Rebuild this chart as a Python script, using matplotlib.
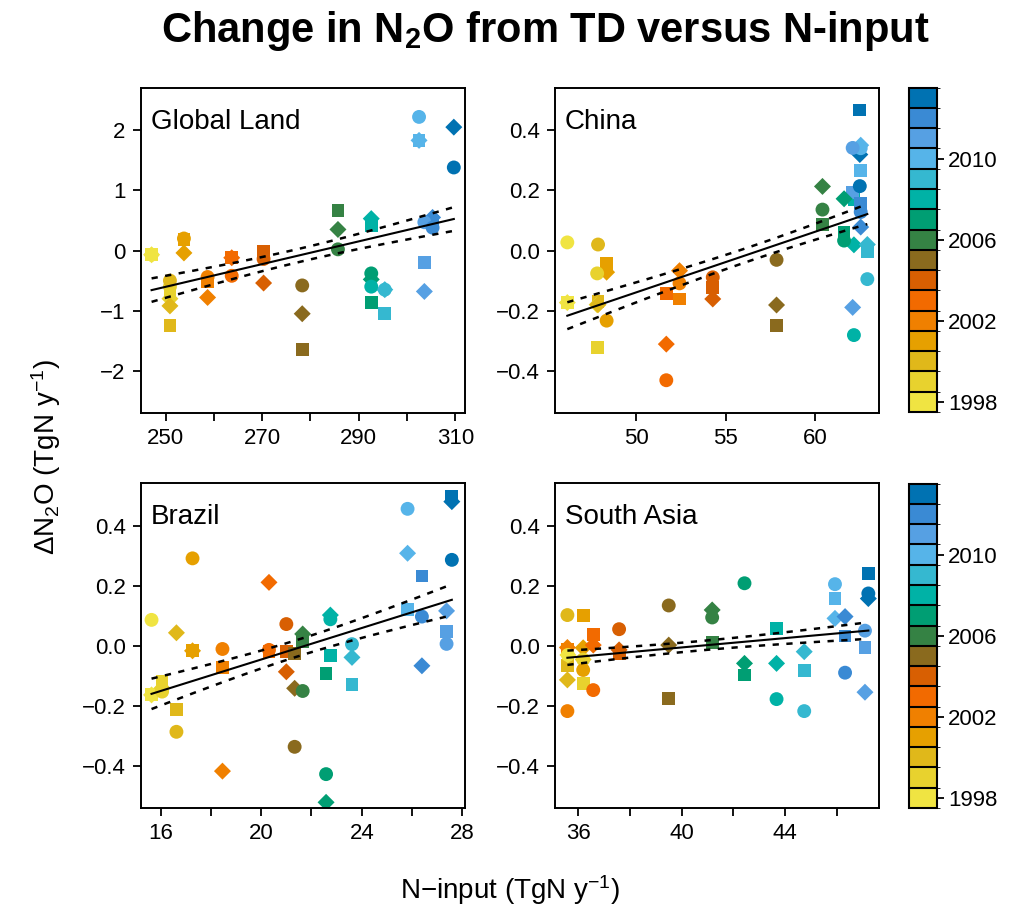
import numpy as np
import matplotlib
matplotlib.use("Agg")
import matplotlib.pyplot as plt
from matplotlib.colors import ListedColormap, BoundaryNorm

plt.rcParams.update({"font.family": ["Liberation Sans", "DejaVu Sans"],
                     "mathtext.default": "regular", "axes.linewidth": 1.4})

# ── dados ─────────────────────────────────────────────────────────────────────
anos = np.arange(1998, 2014)
cores = ["#F0E442", "#E8D22E", "#E0B81A", "#E6A000", "#F08000", "#F26A00",
         "#D85F02", "#8A6A1E", "#358244", "#009E73", "#00B2A6", "#35B8D0",
         "#56B4E9", "#56A0E3", "#3A8AD4", "#0072B2"]

# Global Land (quadrado de 2013 não aparece na figura)
gl_x = [247.1, 250.9, 250.9, 253.8, 258.7, 263.7, 270.3, 278.3,
        285.7, 292.6, 292.6, 295.4, 302.5, 303.6, 305.3, 309.7]
gl_circ = [-0.07, -0.60, -0.50, 0.20, -0.44, -0.42, -0.14, -0.58,
           0.02, -0.38, -0.60, -0.65, 2.22, 0.47, 0.38, 1.38]
gl_quad = [-0.07, -0.67, -1.25, 0.18, -0.52, -0.11, -0.02, -1.65,
           0.67, -0.87, 0.42, -1.05, 1.83, -0.20, 0.48, np.nan]
gl_losa = [-0.07, -0.80, -0.92, -0.04, -0.78, -0.12, -0.54, -1.05,
           0.35, -0.48, 0.53, -0.65, 1.83, -0.68, 0.55, 2.05]

# China
cn_x = [46.13, 47.80, 47.85, 48.33, 52.41, 51.67, 54.27, 57.84,
        60.41, 61.62, 62.17, 62.92, 62.55, 62.10, 62.55, 62.50]
cn_circ = [0.027, -0.076, 0.020, -0.233, -0.109, -0.431, -0.089, -0.031,
           0.136, 0.033, -0.281, -0.095, 0.340, 0.341, 0.128, 0.214]
cn_quad = [-0.173, -0.322, -0.170, -0.044, -0.161, -0.144, -0.122, -0.250,
           0.087, 0.061, 0.170, -0.005, 0.267, 0.194, 0.156, 0.467]
cn_losa = [-0.173, -0.180, -0.180, -0.072, -0.067, -0.311, -0.161, -0.181,
           0.213, 0.172, 0.019, 0.020, 0.350, -0.189, 0.078, 0.319]

# Brazil
br_x = [15.64, 16.06, 16.63, 17.27, 18.46, 20.31, 21.00, 21.33,
        21.65, 22.58, 22.75, 23.61, 25.82, 27.37, 26.39, 27.58]
br_circ = [0.087, -0.152, -0.286, 0.292, -0.010, -0.013, 0.073, -0.336,
           -0.150, -0.427, 0.089, 0.006, 0.457, 0.007, 0.098, 0.287]
br_quad = [-0.163, -0.119, -0.211, -0.016, -0.071, -0.019, -0.019, -0.024,
           0.014, -0.091, -0.033, -0.128, 0.122, 0.048, 0.233, 0.498]
br_losa = [-0.163, -0.140, 0.044, -0.016, -0.417, 0.212, -0.086, -0.141,
           0.040, -0.521, 0.103, -0.038, 0.309, 0.117, -0.066, 0.481]

# South Asia
sa_x = [35.60, 36.19, 35.58, 36.19, 35.58, 36.58, 37.58, 39.50,
        41.18, 42.43, 43.67, 44.74, 45.93, 47.09, 46.32, 47.22]
sa_circ = [-0.030, -0.045, 0.103, -0.080, -0.217, -0.147, 0.056, 0.135,
           0.095, 0.209, -0.177, -0.217, 0.206, 0.051, -0.089, 0.175]
sa_quad = [-0.030, -0.124, -0.066, 0.101, -0.010, 0.039, -0.024, -0.174,
           0.012, -0.097, 0.059, -0.082, 0.157, -0.004, 0.033, 0.242]
sa_losa = [-0.030, -0.045, -0.113, -0.006, -0.005, 0.003, -0.013, 0.003,
           0.120, -0.058, -0.058, -0.019, 0.092, -0.154, 0.098, 0.158]

paineis = [
    ("Global Land", gl_x, gl_circ, gl_quad, gl_losa, (244.9, 312.0), (-2.7, 2.7),
     np.arange(250, 311, 10), [250, 270, 290, 310], np.arange(-2, 3, 1)),
    ("China", cn_x, cn_circ, cn_quad, cn_losa, (45.44, 63.57), (-0.54, 0.54),
     [50, 55, 60], [50, 55, 60], np.arange(-0.4, 0.41, 0.2)),
    ("Brazil", br_x, br_circ, br_quad, br_losa, (15.22, 28.1), (-0.54, 0.543),
     np.arange(16, 29, 2), [16, 20, 24, 28], np.arange(-0.4, 0.41, 0.2)),
    ("South Asia", sa_x, sa_circ, sa_quad, sa_losa, (35.1, 47.63), (-0.54, 0.543),
     np.arange(36, 47, 2), [36, 40, 44], np.arange(-0.4, 0.41, 0.2)),
]
pos = [(0.1382, 0.5486), (0.5441, 0.5486), (0.1382, 0.1169), (0.5441, 0.1169)]
W, H = 0.3176, 0.3552

cmap = ListedColormap(cores)
norm = BoundaryNorm(np.arange(1997.5, 2014.5, 1), cmap.N)

fig = plt.figure(figsize=(10.2, 9.15), dpi=100)

for (nome, x, c, q, l, xl, yl, xt, xlab, yt), (px, py) in zip(paineis, pos):
    ax = fig.add_axes([px, py, W, H])
    x = np.array(x)
    for ys, mk, s in [(q, "s", 85), (l, "D", 75), (c, "o", 100)]:
        ax.scatter(x, ys, c=anos, cmap=cmap, norm=norm, marker=mk, s=s,
                   linewidths=0, zorder=2)
    # regressão linear com faixa de erro padrão da média
    xx = np.concatenate([x, x, x]); yy = np.concatenate([c, q, l])
    ok = ~np.isnan(yy); xx = xx[ok]; yy = yy[ok]
    b, a = np.polyfit(xx, yy, 1)
    res = yy - (a + b * xx); n = len(xx)
    s_res = np.sqrt(np.sum(res ** 2) / (n - 2))
    xg = np.linspace(xx.min(), xx.max(), 100)
    se = s_res * np.sqrt(1 / n + (xg - xx.mean()) ** 2 / np.sum((xx - xx.mean()) ** 2))
    ax.plot(xg, a + b * xg, color="black", lw=1.5, zorder=3)
    for sgn in (-1, 1):
        ax.plot(xg, a + b * xg + sgn * se, color="black", lw=1.8,
                ls=(0, (2.5, 3)), zorder=3)
    ax.set_xlim(xl); ax.set_ylim(yl)
    ax.set_xticks(xt)
    ax.set_xticklabels([str(v) if v in xlab else "" for v in xt])
    ax.set_yticks(yt)
    if nome == "Global Land":
        ax.set_yticklabels([f"{v:.0f}".replace("-", "\u2212") for v in yt])
    else:
        ax.set_yticklabels([f"{v:.1f}".replace("-", "\u2212").replace("\u22120.0", "0.0") for v in yt])
    ax.tick_params(direction="out", length=6, width=1.3, labelsize=16, pad=5)
    ax.text(0.03, 0.935, nome, transform=ax.transAxes, fontsize=20, va="top")

# barras de cores
for py in (0.5497, 0.1169):
    cax = fig.add_axes([0.8912, py, 0.0275, 0.3545])
    sm = plt.cm.ScalarMappable(cmap=cmap, norm=norm)
    cb = fig.colorbar(sm, cax=cax, ticks=[1998, 2002, 2006, 2010], drawedges=True)
    cb.outline.set_linewidth(1.5)
    cb.dividers.set_linewidth(1.5)
    cb.ax.tick_params(direction="out", length=5, width=1.3, labelsize=16, pad=3)

fig.text(0.535, 0.966, "Change in N$_2$O from TD versus N-input", ha="center", va="center",
         fontsize=30, fontweight="bold")
fig.text(0.5, 0.027, "N\u2212input (TgN y$^{-1}$)", ha="center", va="center", fontsize=20)
fig.text(0.045, 0.5, "\u0394N$_2$O (TgN y$^{-1}$)", ha="center", va="center",
         fontsize=20, rotation=90)

fig.savefig("out.png", dpi=100)
